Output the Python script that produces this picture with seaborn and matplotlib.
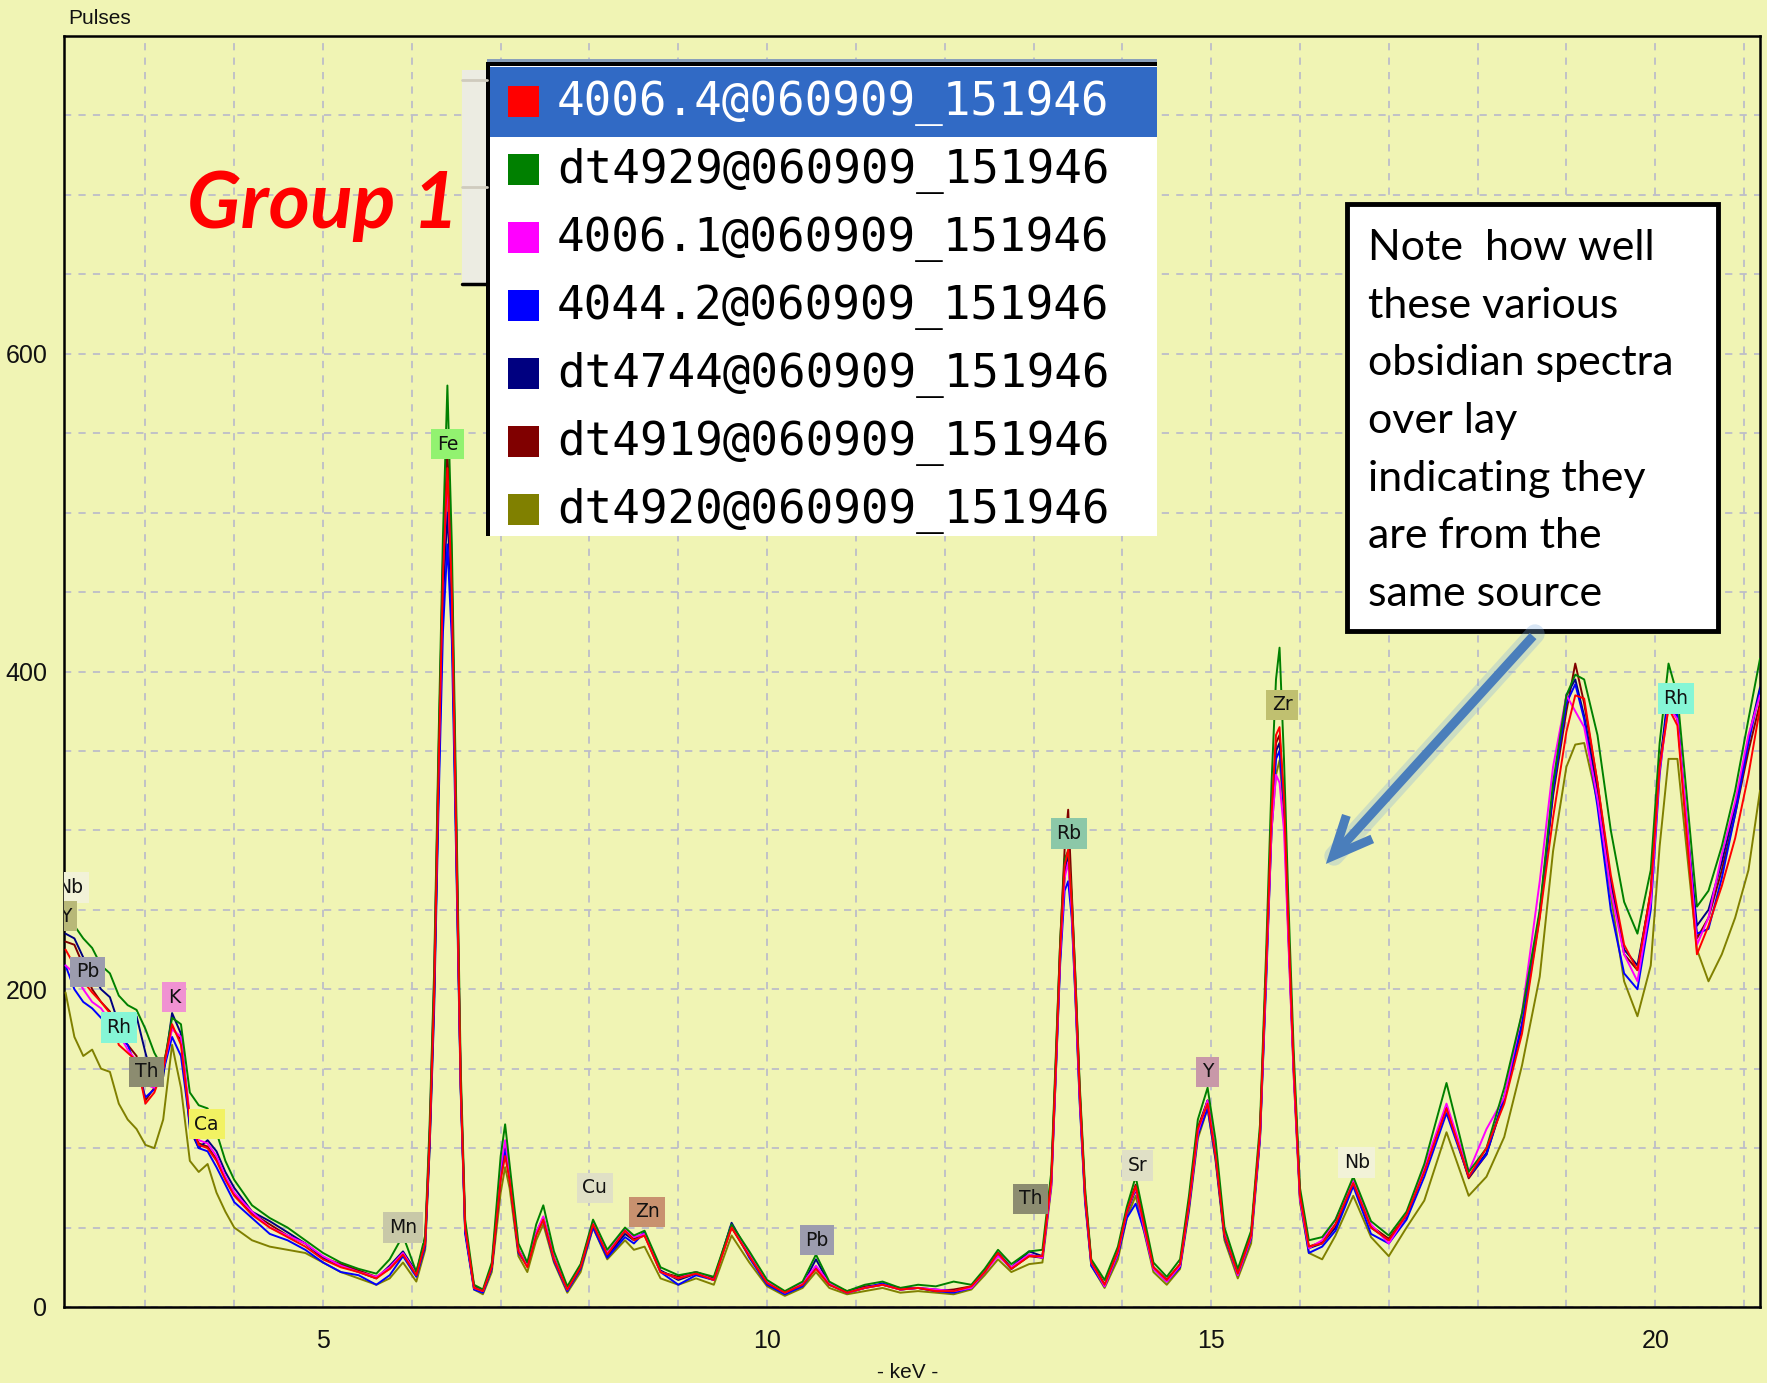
import matplotlib
matplotlib.use("Agg")
import matplotlib.pyplot as plt
import numpy as np
import pandas as pd
import seaborn as sns
from matplotlib.ticker import MultipleLocator, FuncFormatter
from matplotlib.patches import Rectangle, FancyArrowPatch, ArrowStyle

W, H = 1767, 1383
BG = "#F0F4B4"

# ---------------------------------------------------------------- data
ENERGY = [2.1, 2.2, 2.3, 2.4, 2.5, 2.6, 2.7, 2.8, 2.9, 3.0, 3.1, 3.2, 3.3, 3.4, 3.5, 3.6, 3.7, 3.8, 3.9, 4.0,
          4.2, 4.4, 4.6, 4.8, 5.0, 5.2, 5.4, 5.6, 5.75, 5.9, 6.05,
          6.15, 6.2, 6.25, 6.3, 6.35, 6.4, 6.45, 6.5, 6.55, 6.6, 6.7, 6.8,
          6.9, 7.0, 7.05, 7.1, 7.2, 7.3, 7.4, 7.48, 7.6, 7.75, 7.9, 8.04, 8.2, 8.4, 8.5, 8.62, 8.8, 9.0, 9.2, 9.4,
          9.6, 9.8, 10.0, 10.2, 10.4,
          10.55, 10.7, 10.9, 11.1, 11.3, 11.5, 11.7, 11.9, 12.1, 12.3, 12.45, 12.6, 12.75, 12.95, 13.1,
          13.2, 13.25, 13.3, 13.35, 13.39, 13.43, 13.47, 13.52, 13.58, 13.65, 13.8, 13.95, 14.05, 14.15, 14.25, 14.35,
          14.5, 14.65, 14.75, 14.85, 14.96, 15.05, 15.15, 15.3, 15.45, 15.55, 15.62, 15.68, 15.73, 15.77, 15.82, 15.87,
          15.93, 16.0, 16.1, 16.25,
          16.4, 16.6, 16.8, 17.0, 17.2, 17.4, 17.65, 17.9, 18.1, 18.3, 18.5, 18.7, 18.85, 19.0, 19.1, 19.2, 19.35,
          19.5, 19.65, 19.8, 19.95, 20.05, 20.15, 20.25, 20.35, 20.47, 20.6, 20.75, 20.9, 21.05, 21.18]

SAMPLES = ["4006.4@060909_151946", "dt4929@060909_151946", "4006.1@060909_151946",
           "4044.2@060909_151946", "dt4744@060909_151946", "dt4919@060909_151946",
           "dt4920@060909_151946"]
COLORS = ["#FF0000", "#008000", "#FF00FF", "#0000FF", "#000080", "#800000", "#808000"]

s_4006_4 = [225, 215, 205, 198, 192, 185, 165, 160, 155, 128, 135, 150, 178, 165, 118, 102, 100, 92, 80, 70,
            58, 50, 44, 38, 30, 25, 22, 18, 24, 33, 20,
            40, 105, 195, 335, 460, 528, 450, 295, 140, 50, 12, 10,
            25, 80, 95, 80, 35, 25, 45, 55, 30, 11, 25, 52, 33, 48, 42, 45, 22, 18, 21, 17, 50, 32, 15, 9, 14,
            24, 14, 9, 12, 14, 11, 12, 10, 10, 13, 22, 34, 24, 32, 32,
            80, 150, 225, 278, 288, 255, 205, 135, 70, 28, 14, 35, 60, 76, 50, 25, 17, 27, 65, 112,
            128, 95, 45, 21, 45, 110, 215, 310, 360, 365, 320, 240, 150, 70, 38, 40,
            52, 78, 50, 42, 58, 85, 125, 82, 100, 128, 172, 245, 308, 362, 385, 383, 330, 272, 228, 212,
            262, 340, 377, 366, 300, 222, 240, 265, 295, 335, 377]

s_dt4929 = [250, 240, 232, 226, 215, 210, 196, 190, 187, 175, 160, 150, 182, 178, 135, 127, 125, 110, 92, 80,
            64, 56, 50, 42, 34, 28, 24, 21, 30, 45, 22,
            45, 115, 210, 355, 485, 580, 480, 315, 150, 55, 14, 11,
            28, 95, 115, 90, 40, 28, 52, 64, 35, 13, 27, 55, 36, 50, 45, 48, 25, 20, 22, 19, 52, 35, 17, 10, 16,
            33, 16, 10, 14, 16, 12, 14, 13, 16, 14, 24, 36, 27, 35, 36,
            85, 157, 230, 282, 287, 258, 210, 140, 75, 30, 17, 38, 63, 82, 55, 28, 19, 30, 70, 118,
            138, 105, 50, 24, 48, 115, 225, 330, 395, 415, 345, 255, 160, 75, 42, 44,
            55, 82, 54, 45, 60, 90, 141, 85, 100, 138, 185, 250, 330, 385, 398, 395, 360, 300, 255, 235,
            275, 355, 405, 385, 325, 252, 262, 290, 325, 370, 408]

s_4006_1 = [215, 210, 200, 192, 188, 180, 172, 162, 155, 140, 138, 150, 175, 170, 120, 105, 103, 95, 82, 72,
            60, 50, 45, 40, 32, 26, 22, 19, 25, 34, 21,
            42, 110, 205, 340, 465, 520, 455, 300, 142, 50, 12, 10,
            26, 88, 105, 85, 36, 26, 47, 57, 31, 11, 26, 54, 34, 49, 44, 46, 22, 18, 22, 17, 51, 33, 16, 9, 15,
            26, 15, 9, 12, 14, 11, 12, 11, 10, 12, 22, 32, 25, 33, 31,
            77, 147, 222, 270, 280, 250, 200, 132, 70, 28, 13, 34, 60, 75, 48, 24, 16, 26, 64, 110,
            130, 97, 46, 20, 44, 108, 210, 300, 335, 330, 300, 230, 145, 68, 37, 42,
            55, 80, 52, 40, 58, 88, 128, 85, 112, 132, 185, 268, 340, 385, 375, 365, 320, 262, 222, 205,
            255, 338, 378, 370, 310, 228, 245, 285, 318, 360, 385]

s_4044_2 = [215, 200, 192, 188, 182, 178, 170, 165, 150, 132, 137, 148, 170, 158, 115, 100, 98, 88, 77, 66,
            56, 46, 42, 36, 28, 22, 20, 14, 20, 32, 19,
            38, 100, 185, 315, 425, 480, 420, 280, 135, 46, 11, 9,
            24, 82, 98, 82, 34, 26, 46, 55, 29, 10, 24, 50, 31, 44, 40, 47, 22, 14, 20, 17, 52, 31, 14, 8, 13,
            25, 14, 9, 12, 15, 11, 12, 10, 9, 12, 22, 33, 24, 33, 31,
            77, 145, 216, 262, 268, 245, 196, 128, 66, 26, 13, 33, 56, 65, 47, 24, 16, 25, 62, 108,
            125, 93, 44, 20, 43, 106, 205, 300, 345, 350, 315, 235, 148, 68, 34, 38,
            48, 76, 46, 40, 55, 82, 122, 82, 96, 132, 178, 248, 325, 380, 392, 370, 315, 250, 210, 200,
            250, 335, 385, 372, 305, 235, 238, 270, 310, 355, 388]

s_dt4744 = [235, 232, 220, 210, 200, 195, 178, 178, 183, 160, 140, 145, 185, 172, 112, 100, 105, 98, 85, 75,
            60, 54, 47, 40, 31, 26, 22, 18, 26, 35, 22,
            42, 105, 195, 325, 445, 500, 440, 290, 138, 48, 12, 10,
            25, 85, 100, 83, 35, 26, 47, 56, 30, 11, 25, 52, 32, 46, 42, 47, 23, 17, 21, 17, 53, 33, 15, 9, 14,
            30, 15, 9, 12, 14, 11, 12, 11, 10, 12, 22, 34, 25, 35, 32,
            79, 149, 222, 272, 285, 252, 202, 133, 70, 28, 14, 34, 59, 74, 50, 25, 17, 26, 64, 111,
            130, 96, 45, 21, 45, 108, 212, 305, 350, 355, 318, 238, 150, 70, 37, 40,
            50, 78, 50, 42, 57, 86, 126, 82, 97, 132, 178, 248, 325, 385, 395, 372, 325, 268, 225, 215,
            260, 340, 388, 372, 308, 240, 250, 280, 315, 358, 390]

s_dt4919 = [230, 228, 215, 200, 192, 186, 170, 165, 158, 130, 138, 152, 176, 168, 118, 103, 101, 93, 81, 71,
            59, 52, 45, 40, 31, 27, 23, 19, 24, 33, 21,
            41, 107, 200, 345, 470, 540, 460, 300, 142, 50, 13, 10,
            25, 82, 98, 82, 36, 26, 46, 56, 31, 11, 26, 53, 33, 48, 43, 45, 22, 19, 22, 18, 50, 32, 15, 9, 14,
            25, 14, 10, 13, 14, 12, 12, 10, 11, 13, 22, 34, 24, 32, 31,
            81, 153, 230, 288, 313, 262, 208, 137, 71, 29, 14, 35, 61, 77, 51, 25, 17, 27, 66, 113,
            130, 96, 46, 21, 45, 110, 215, 308, 355, 360, 318, 238, 150, 70, 38, 41,
            52, 79, 51, 43, 58, 86, 126, 81, 96, 131, 176, 246, 322, 375, 405, 380, 330, 268, 222, 212,
            262, 342, 380, 370, 305, 232, 245, 275, 310, 350, 380]

s_dt4920 = [198, 170, 158, 162, 150, 148, 128, 118, 112, 102, 100, 118, 165, 138, 92, 85, 90, 72, 60, 50,
            42, 38, 36, 34, 28, 22, 18, 14, 18, 28, 16,
            36, 100, 190, 330, 455, 515, 445, 292, 138, 48, 11, 8,
            22, 72, 88, 75, 32, 22, 42, 52, 28, 9, 22, 50, 30, 42, 36, 38, 18, 14, 18, 14, 45, 28, 13, 7, 12,
            22, 12, 8, 10, 12, 9, 10, 9, 8, 11, 20, 30, 22, 27, 28,
            75, 145, 220, 272, 282, 248, 198, 130, 68, 26, 12, 30, 56, 70, 46, 22, 14, 24, 60, 106,
            125, 92, 42, 18, 40, 105, 210, 300, 335, 344, 310, 232, 145, 66, 34, 30,
            45, 70, 44, 32, 50, 67, 110, 70, 82, 107, 152, 208, 287, 340, 354, 355, 318, 259, 205, 183,
            215, 290, 345, 345, 290, 225, 205, 222, 245, 275, 325]

SERIES = [s_4006_4, s_dt4929, s_4006_1, s_4044_2, s_dt4744, s_dt4919, s_dt4920]

# element line markers: (symbol, keV, pulses, box colour)
ELEMENTS = [("Nb", 2.15, 264, "#F2F2D8"), ("Y", 2.10, 246, "#B8B878"), ("Pb", 2.35, 211, "#9C9CAE"),
            ("Rh", 2.70, 176, "#86F6D6"), ("Th", 3.01, 148, "#8C8C70"), ("K", 3.32, 195, "#F092D2"),
            ("Ca", 3.69, 115, "#F2F262"), ("Mn", 5.90, 50, "#C8C8A8"), ("Fe", 6.40, 543, "#92F270"),
            ("Cu", 8.06, 75, "#E0E0C6"), ("Zn", 8.65, 60, "#C8916F"), ("Pb", 10.56, 42, "#9C9CAE"),
            ("Th", 12.97, 68, "#8C8C70"), ("Rb", 13.40, 298, "#8CC8A8"), ("Sr", 14.17, 89, "#E0E0C6"),
            ("Y", 14.96, 148, "#C898A8"), ("Zr", 15.80, 379, "#C0C070"), ("Nb", 16.64, 91, "#F2F2D8"),
            ("Rh", 20.23, 383, "#86F6D6")]

NOTE_LINES = ["Note  how well", "these various", "obsidian spectra", "over lay",
              "indicating they", "are from the", "same source"]

# ---------------------------------------------------------------- figure
sns.set_theme(style="white")
plt.rcParams["font.family"] = ["Liberation Sans", "DejaVu Sans"]

fig = plt.figure(figsize=(W / 100, H / 100), dpi=100, facecolor=BG)
ax = fig.add_axes([64 / W, 1 - 1307 / H, (1760 - 64) / W, (1307 - 36) / H])
ax.set_facecolor(BG)

frames = [pd.DataFrame({"keV": ENERGY, "pulses": vals, "sample": name})
          for name, vals in zip(SAMPLES, SERIES)]
df = pd.concat(frames, ignore_index=True)

draw_order = SAMPLES[::-1]
palette = dict(zip(SAMPLES, COLORS))
sns.lineplot(data=df, x="keV", y="pulses", hue="sample", hue_order=draw_order,
             palette=palette, estimator=None, sort=False, legend=False,
             linewidth=1.4, ax=ax, zorder=3)

ax.set_xlim(2.083, 21.18)
ax.set_ylim(0, 800)
ax.set_xlabel("")
ax.set_ylabel("")
ax.xaxis.set_major_locator(MultipleLocator(1))
ax.yaxis.set_major_locator(MultipleLocator(50))
ax.xaxis.set_major_formatter(FuncFormatter(lambda v, p: f"{int(round(v))}" if int(round(v)) % 5 == 0 else ""))
ax.yaxis.set_major_formatter(FuncFormatter(lambda v, p: f"{int(round(v))}" if int(round(v)) in (0, 200, 400, 600) else ""))
ax.grid(True, color="#BDBDC8", linestyle=(0, (4, 4)), linewidth=1.3)
ax.set_axisbelow(True)
ax.tick_params(axis="both", direction="out", length=10, width=1.6, color="black",
               labelsize=18, labelcolor="#111111")
ax.tick_params(axis="x", pad=6)
ax.tick_params(axis="y", pad=2)
for sp in ax.spines.values():
    sp.set_color("black")
    sp.set_linewidth(1.8)

for sym, x, y, col in ELEMENTS:
    ax.text(x, y, sym, ha="center", va="center", fontsize=13.5, family="DejaVu Sans",
            color="#111111", zorder=6, clip_on=True,
            bbox=dict(boxstyle="square,pad=0.3", fc=col, ec="none"))

# ---------------------------------------------------------------- overlay (pixel coordinates)
ov = fig.add_axes([0, 0, 1, 1], zorder=10)
ov.set_xlim(0, W)
ov.set_ylim(H, 0)
ov.axis("off")
ov.patch.set_alpha(0)

ov.text(68, 19, "Pulses", ha="left", va="center", fontsize=15, color="#111111")
ov.text(908, 1372, "- keV -", ha="center", va="center", fontsize=15, color="#111111")

# sample list panel
ov.add_patch(Rectangle((462, 70), 25, 214, fc="#ECECE2", ec="none"))
ov.plot([462, 487], [80, 80], color="#CFCBBE", lw=2)
ov.plot([462, 487], [187, 187], color="#CFCBBE", lw=2)
ov.plot([462, 487], [284, 284], color="black", lw=2.5)
ov.add_patch(Rectangle((487, 59), 670, 6, fc="#8AA0BA", ec="none"))
ov.add_patch(Rectangle((487, 64), 670, 472, fc="white", ec="none"))
ov.add_patch(Rectangle((490, 67), 667, 70, fc="#316AC5", ec="none"))
ov.add_patch(Rectangle((486, 62), 4, 474, fc="black", ec="none"))
ov.add_patch(Rectangle((487, 62), 670, 4, fc="black", ec="none"))
for i, (name, col) in enumerate(zip(SAMPLES, COLORS)):
    yc = 102 + 68 * i
    ov.add_patch(Rectangle((508, yc - 16), 31, 31, fc=col, ec="none"))
    ov.text(557, yc + 1, name, ha="left", va="center", fontsize=33,
            family="DejaVu Sans Mono", color="white" if i == 0 else "black")

ov.text(323, 206, "Group 1", ha="center", va="center", color="#FF0000", fontsize=57,
        fontweight="bold", fontstyle="italic", family=["Lato", "DejaVu Sans"])

# note box
ov.add_patch(Rectangle((1347, 204), 371, 427, fc="white", ec="black", lw=3.5))
for i, line in enumerate(NOTE_LINES):
    ov.text(1368, 260 + 57.7 * i, line, ha="left", va="baseline", fontsize=31,
            family=["Lato", "DejaVu Sans"], color="black")

# arrow from the note to the spectra, with a soft halo along the shaft
ov.plot([1535, 1334], [634, 856], color="#7FAEE0", lw=14, alpha=0.3,
        solid_capstyle="round", zorder=1)
arrow = FancyArrowPatch(posA=(1535, 634), posB=(1324, 866),
                        arrowstyle=ArrowStyle("->", head_length=0.62, head_width=0.28),
                        mutation_scale=45, lw=6.5, color="#4A7EBB",
                        capstyle="butt", joinstyle="miter", zorder=2)
ov.add_patch(arrow)

fig.savefig("out.png", dpi=100, facecolor=BG)
